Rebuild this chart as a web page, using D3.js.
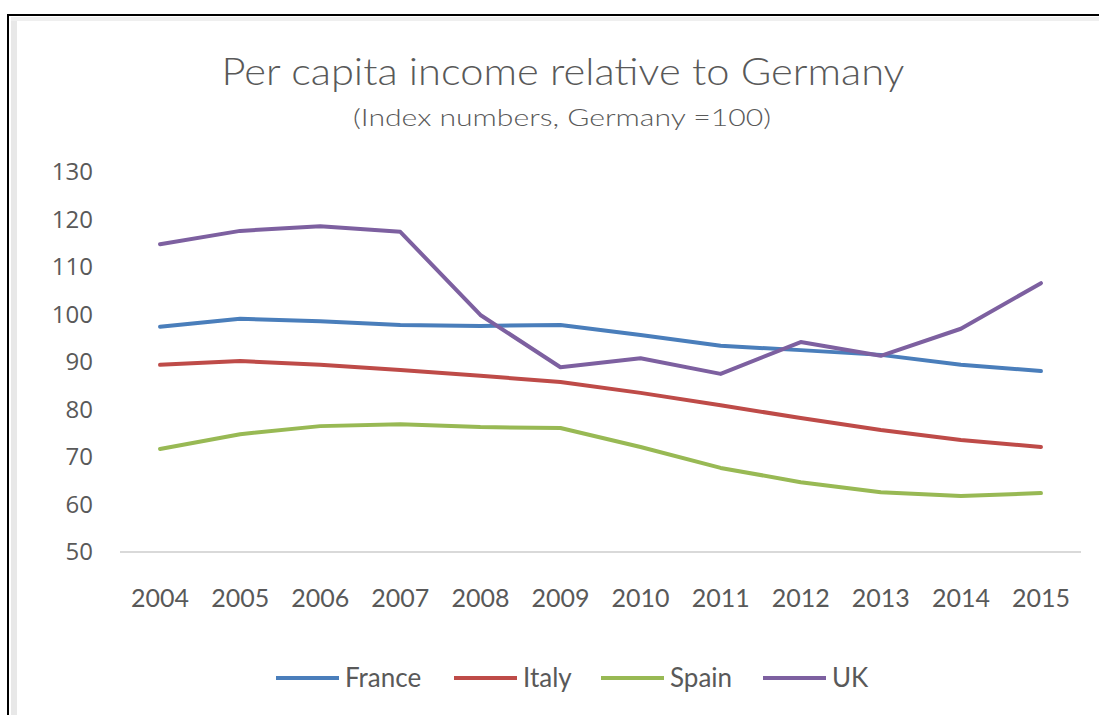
<!DOCTYPE html>
<html>
<head>
<meta charset="utf-8">
<script src="https://cdn.jsdelivr.net/npm/d3@7"></script>
<style>
  body { margin: 0; background: #fff; }
  text { font-family: Lato, "Open Sans", sans-serif; fill: #595959; }
</style>
</head>
<body>
<div id="chart"></div>
<script>
// data
var years = [2004, 2005, 2006, 2007, 2008, 2009, 2010, 2011, 2012, 2013, 2014, 2015];
var france = [97.4, 99.1, 98.6, 97.8, 97.6, 97.8, 95.7, 93.4, 92.5, 91.5, 89.4, 88.1];
var italy  = [89.4, 90.2, 89.4, 88.3, 87.1, 85.8, 83.5, 80.9, 78.2, 75.7, 73.6, 72.1];
var spain  = [71.7, 74.8, 76.5, 76.9, 76.3, 76.1, 72.1, 67.7, 64.7, 62.6, 61.8, 62.4];
var uk     = [114.8, 117.6, 118.6, 117.4, 99.9, 88.9, 90.8, 87.5, 94.2, 91.3, 97.0, 106.6];
var yTicks = [50, 60, 70, 80, 90, 100, 110, 120, 130];
var seriesNames = ["France", "Italy", "Spain", "UK"];
var seriesColors = ["#4a7ebb", "#be4b48", "#98b954", "#7d60a0"];

var series = [france, italy, spain, uk].map(function(vals, i){
  return {name: seriesNames[i], color: seriesColors[i], values: vals};
});

var W = 1099, H = 715;
var margin = {top: 172, right: 18, left: 120, bottom: 163};

var svg = d3.select("#chart").append("svg")
  .attr("width", W).attr("height", H);

// frame of the screenshot: black edge plus a soft grey shadow inside
svg.append("rect").attr("x", 11).attr("y", 17).attr("width", 6).attr("height", H)
  .attr("fill", "#e8e8e8");
svg.append("rect").attr("x", 11).attr("y", 17).attr("width", W).attr("height", 4)
  .attr("fill", "#efefef");
svg.append("line").attr("x1", 8).attr("x2", W).attr("y1", 15).attr("y2", 15)
  .attr("stroke", "#000").attr("stroke-width", 2);
svg.append("line").attr("x1", 8).attr("x2", 8).attr("y1", 14).attr("y2", H)
  .attr("stroke", "#000").attr("stroke-width", 2);

// titles
svg.append("text").attr("x", 563).attr("y", 85)
  .attr("text-anchor", "middle").style("font-size", "37px").style("font-weight", 300)
  .attr("textLength", 683).attr("lengthAdjust", "spacingAndGlyphs")
  .text("Per capita income relative to Germany");
svg.append("text").attr("x", 562).attr("y", 126)
  .attr("text-anchor", "middle").style("font-size", "23px").style("font-weight", 300)
  .attr("textLength", 418).attr("lengthAdjust", "spacingAndGlyphs")
  .text("(Index numbers, Germany =100)");

var x = d3.scaleBand().domain(years).range([margin.left, W - margin.right]);
var y = d3.scaleLinear().domain([50, 130]).range([H - margin.bottom, margin.top]);

// y axis labels, no line
var yAxis = svg.append("g").attr("transform", "translate(" + 93 + ",0)")
  .call(d3.axisLeft(y).tickValues(yTicks).tickSize(0).tickPadding(0));
yAxis.select(".domain").remove();
yAxis.selectAll("text").style("font-size", "24px").style("font-family", "\"Open Sans\", sans-serif")
  .style("fill", "#595959");

// baseline
svg.append("line")
  .attr("x1", margin.left).attr("x2", W - margin.right)
  .attr("y1", y(50)).attr("y2", y(50))
  .attr("stroke", "#d9d9d9").attr("stroke-width", 2);

// x axis labels
var xAxis = svg.append("g").attr("transform", "translate(0," + (y(50) + 37) + ")")
  .call(d3.axisBottom(x).tickSize(0).tickPadding(0));
xAxis.select(".domain").remove();
xAxis.selectAll("text").style("font-size", "25px").style("font-family", "Lato, sans-serif")
  .style("fill", "#595959");

var line = d3.line()
  .x(function(d, i){ return x(years[i]) + x.bandwidth() / 2; })
  .y(function(d){ return y(d); });

svg.selectAll(".series").data(series).enter().append("path")
  .attr("class", "series")
  .attr("d", function(d){ return line(d.values); })
  .attr("fill", "none")
  .attr("stroke", function(d){ return d.color; })
  .attr("stroke-width", 4)
  .attr("stroke-linejoin", "round")
  .attr("stroke-linecap", "round");

// legend
var legendX = [276, 454, 601, 763];
var legend = svg.selectAll(".legend").data(series).enter().append("g")
  .attr("class", "legend")
  .attr("transform", function(d, i){ return "translate(" + legendX[i] + ",678)"; });
legend.append("line").attr("x1", 0).attr("x2", 63).attr("y1", 0).attr("y2", 0)
  .attr("stroke", function(d){ return d.color; }).attr("stroke-width", 4);
legend.append("text").attr("x", 69).attr("y", 9)
  .style("font-size", "26px")
  .text(function(d){ return d.name; });
</script>
</body>
</html>
